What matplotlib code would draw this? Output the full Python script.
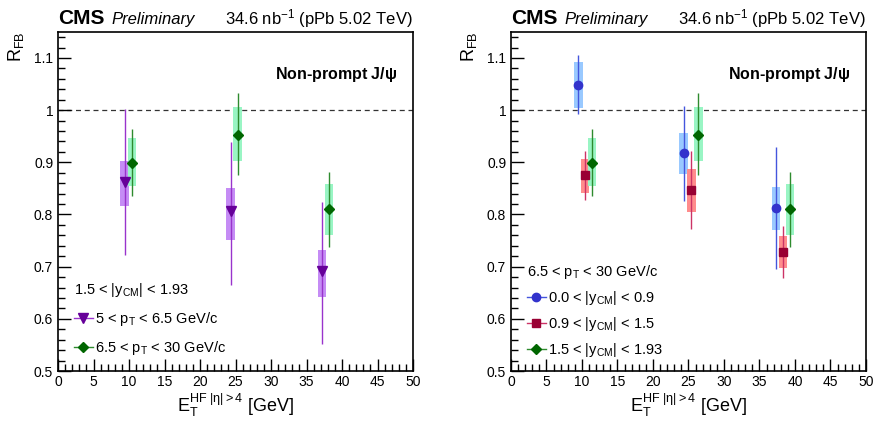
import matplotlib
matplotlib.use("Agg")
import matplotlib.pyplot as plt
from matplotlib.lines import Line2D
from matplotlib.ticker import MultipleLocator

plt.rcParams['font.family'] = ['Liberation Sans', 'DejaVu Sans']
plt.rcParams['mathtext.fontset'] = 'custom'
plt.rcParams['mathtext.rm'] = 'Liberation Sans'
plt.rcParams['mathtext.it'] = 'Liberation Sans'
plt.rcParams['mathtext.default'] = 'regular'

# left panel: 1.5 < |y_CM| < 1.93, two pT bins
pt_lo_x = [9.4, 24.3, 37.2]
pt_lo_r = [0.863, 0.806, 0.691]
pt_lo_stat_hi = [1.002, 0.938, 0.823]
pt_lo_stat_lo = [0.722, 0.665, 0.551]
pt_lo_sys_hi = [0.903, 0.850, 0.732]
pt_lo_sys_lo = [0.817, 0.751, 0.642]

fwd_x_left = [10.4, 25.3, 38.2]
fwd_x_right = [11.4, 26.4, 39.3]
fwd_r = [0.899, 0.953, 0.810]
fwd_stat_hi = [0.964, 1.032, 0.882]
fwd_stat_lo = [0.835, 0.876, 0.737]
fwd_sys_hi = [0.947, 1.006, 0.858]
fwd_sys_lo = [0.854, 0.902, 0.761]

# right panel: 6.5 < pT < 30, three rapidity bins
mid_x = [9.5, 24.3, 37.3]
mid_r = [1.048, 0.917, 0.813]
mid_stat_hi = [1.105, 1.007, 0.930]
mid_stat_lo = [0.992, 0.825, 0.695]
mid_sys_hi = [1.093, 0.956, 0.853]
mid_sys_lo = [1.004, 0.878, 0.771]

int_x = [10.4, 25.4, 38.3]
int_r = [0.875, 0.846, 0.729]
int_stat_hi = [0.922, 0.921, 0.778]
int_stat_lo = [0.828, 0.773, 0.678]
int_sys_hi = [0.906, 0.887, 0.759]
int_sys_lo = [0.842, 0.804, 0.698]


def draw_series(ax, x, r, shi, slo, syhi, sylo, marker, mcol, lcol, boxcol, ms):
    ax.bar(x, [h - l for h, l in zip(syhi, sylo)], bottom=sylo, width=1.2,
           color=boxcol, edgecolor='none', zorder=2)
    ax.errorbar(x, r, yerr=[[v - l for v, l in zip(r, slo)], [h - v for h, v in zip(shi, r)]],
                fmt=marker, color=lcol, mfc=mcol, mec=mcol, ms=ms, elinewidth=1.0,
                capsize=0, zorder=3)
    return Line2D([], [], color=lcol, marker=marker, mfc=mcol, mec=mcol, ms=ms, lw=1.0)


def style_axes(ax):
    ax.set_xlim(0, 50)
    ax.set_ylim(0.5, 1.15)
    ax.axhline(1.0, color='#333333', ls=(0, (4, 3)), lw=0.9, zorder=1)
    ax.xaxis.set_major_locator(MultipleLocator(5))
    ax.xaxis.set_minor_locator(MultipleLocator(1))
    ax.yaxis.set_major_locator(MultipleLocator(0.1))
    ax.yaxis.set_minor_locator(MultipleLocator(0.02))
    ax.set_yticks([0.5, 0.6, 0.7, 0.8, 0.9, 1.0, 1.1])
    ax.set_yticklabels(['0.5', '0.6', '0.7', '0.8', '0.9', '1', '1.1'])
    ax.tick_params(which='both', direction='in', top=False, right=False, labelsize=10)
    ax.tick_params(which='major', length=9, width=1)
    ax.tick_params(which='minor', length=5, width=1)
    ax.tick_params(axis='x', pad=3)
    for s in ax.spines.values():
        s.set_linewidth(1.2)
    ax.set_xlabel(r'$E_{T}^{HF\ |\eta|>4}$ [GeV]', fontsize=13, labelpad=2)
    ax.set_ylabel(r'$R_{FB}$', fontsize=13, loc='top', labelpad=6)
    ax.text(0.955, 0.875, r'Non-prompt J/$\psi$', transform=ax.transAxes, ha='right',
            va='center', fontsize=11.5, fontweight='bold')
    ax.text(0.0, 1.022, 'CMS', transform=ax.transAxes, ha='left', va='baseline',
            fontsize=15, fontweight='bold')
    ax.text(0.152, 1.022, 'Preliminary', transform=ax.transAxes, ha='left', va='baseline',
            fontsize=12, style='italic')
    ax.text(1.0, 1.022, r'34.6 nb$^{-1}$ (pPb 5.02 TeV)', transform=ax.transAxes,
            ha='right', va='baseline', fontsize=12)


fig = plt.figure(figsize=(8.75, 4.25), dpi=100)
ax_l = fig.add_axes([0.0663, 0.127, 0.4057, 0.798])
ax_r = fig.add_axes([0.584, 0.127, 0.4057, 0.798])

for ax in (ax_l, ax_r):
    style_axes(ax)

# left panel
h_pt_lo = draw_series(ax_l, pt_lo_x, pt_lo_r, pt_lo_stat_hi, pt_lo_stat_lo, pt_lo_sys_hi,
                      pt_lo_sys_lo, 'v', '#660099', '#9933cc', '#c58cf5', 7)
h_fwd_l = draw_series(ax_l, fwd_x_left, fwd_r, fwd_stat_hi, fwd_stat_lo, fwd_sys_hi,
                      fwd_sys_lo, 'D', '#006600', '#2e8b2e', '#99f5c4', 5.5)
ax_l.legend([h_pt_lo, h_fwd_l],
            [r'5 < p$_{T}$ < 6.5 GeV/c', r'6.5 < p$_{T}$ < 30 GeV/c'],
            title=r'1.5 < |y$_{CM}$| < 1.93', loc='lower left',
            bbox_to_anchor=(0.02, 0.015), frameon=False, fontsize=10.5,
            title_fontsize=10.5, handlelength=1.3, handletextpad=0.15,
            labelspacing=0.75, alignment='left', borderaxespad=0.2)

# right panel
h_mid = draw_series(ax_r, mid_x, mid_r, mid_stat_hi, mid_stat_lo, mid_sys_hi, mid_sys_lo,
                    'o', '#3333cc', '#4455dd', '#99c9ff', 6)
h_int = draw_series(ax_r, int_x, int_r, int_stat_hi, int_stat_lo, int_sys_hi, int_sys_lo,
                    's', '#990033', '#cc3366', '#ff8c8c', 6)
h_fwd_r = draw_series(ax_r, fwd_x_right, fwd_r, fwd_stat_hi, fwd_stat_lo, fwd_sys_hi,
                      fwd_sys_lo, 'D', '#006600', '#2e8b2e', '#99f5c4', 5.5)
ax_r.legend([h_mid, h_int, h_fwd_r],
            [r'0.0 < |y$_{CM}$| < 0.9', r'0.9 < |y$_{CM}$| < 1.5', r'1.5 < |y$_{CM}$| < 1.93'],
            title=r'6.5 < p$_{T}$ < 30 GeV/c', loc='lower left',
            bbox_to_anchor=(0.02, 0.01), frameon=False, fontsize=10.5,
            title_fontsize=10.5, handlelength=1.3, handletextpad=0.15,
            labelspacing=0.55, alignment='left', borderaxespad=0.2)

fig.savefig('out.png', dpi=100)
